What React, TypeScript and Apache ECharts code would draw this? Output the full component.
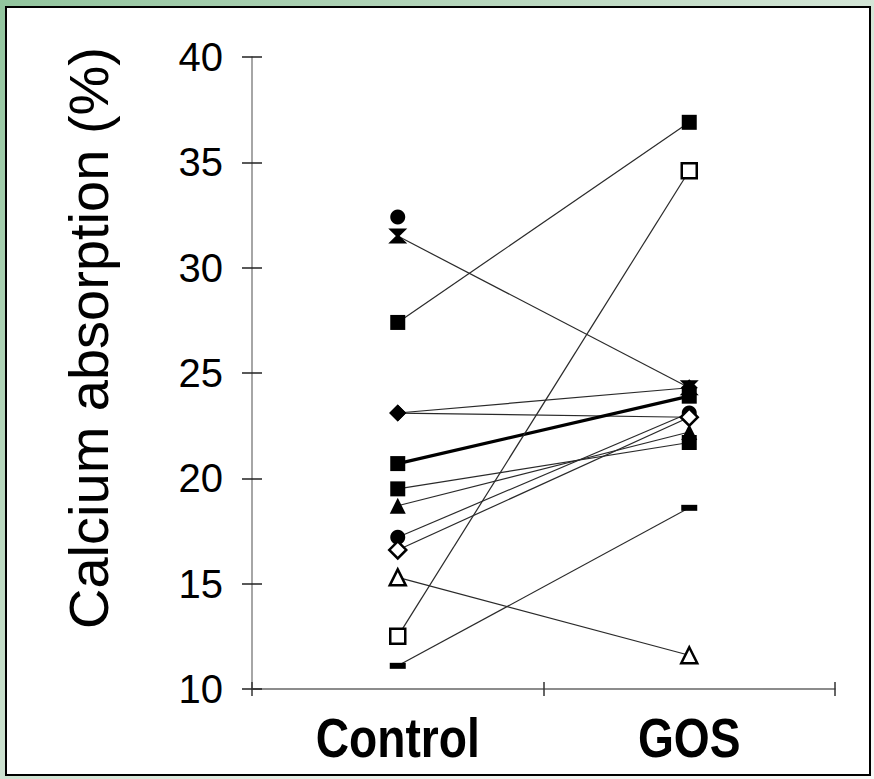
import React, { useEffect, useRef } from "react";
import * as echarts from "echarts";

const categories = ["Control", "GOS"];
const yMin = 10;
const yMax = 40;
const yStep = 5;
const yTitle = "Calcium absorption (%)";

// one entry per subject
const controlValues = [32.4, 31.5, 27.4, 23.1, 23.1, 20.7, 19.5, 18.7, 17.2, 16.6, 15.3, 12.5, 11.1];
const gosValues: (number | string)[] = ["-", 24.3, 36.9, 24.3, 22.9, 23.9, 21.7, 22.2, 23.1, 22.9, 11.6, 34.6, 18.6];
const markerShapes = ["circle", "hourglass", "rect", "diamond", "diamond", "rect", "rect", "triangle", "circle", "diamond", "triangle", "rect", "dash"];
const markerOpen = [false, false, false, false, false, false, false, false, false, true, true, true, false];
const lineWeights = [1.2, 1.2, 1.2, 1.2, 1.2, 3.2, 1.2, 1.2, 1.2, 1.2, 1.2, 1.2, 1.2];

const FONT = '"Liberation Sans", Arial, sans-serif';

function symbolOf(shape: string) {
  if (shape === "hourglass") return { symbol: "path://M0,0L20,0L12,8L20,16L0,16L8,8Z", size: [19, 15] };
  if (shape === "dash") return { symbol: "rect", size: [16, 6] };
  if (shape === "triangle") return { symbol: "triangle", size: 16 };
  if (shape === "diamond") return { symbol: "diamond", size: 17 };
  if (shape === "circle") return { symbol: "circle", size: 15 };
  return { symbol: "rect", size: 15 };
}

export default function App() {
  const ref = useRef<HTMLDivElement>(null);
  useEffect(() => {
    if (!ref.current) return;
    const chart = echarts.init(ref.current, null, { renderer: "svg" });
    const series = controlValues.map((c, i) => {
      const s = symbolOf(markerShapes[i]);
      const open = markerOpen[i];
      return {
        type: "line",
        name: "Subject " + (i + 1),
        data: [c, gosValues[i]],
        xAxisIndex: 0,
        yAxisIndex: 0,
        symbol: s.symbol,
        symbolSize: s.size,
        showAllSymbol: true,
        lineStyle: { color: lineWeights[i] > 2 ? "#000" : "#2a2a2a", width: lineWeights[i] },
        itemStyle: open
          ? { color: "#fff", borderColor: "#000", borderWidth: 2.5 }
          : { color: "#000", borderColor: "#000", borderWidth: 0 },
        emphasis: { disabled: true },
        z: 3,
      };
    });
    chart.setOption({
      animation: false,
      grid: { left: 252, right: 39, top: 57, bottom: 90, containLabel: false },
      xAxis: [
        {
          type: "category",
          data: categories,
          boundaryGap: true,
          position: "bottom",
          axisLine: { show: true, lineStyle: { color: "#666", width: 1.5 } },
          axisTick: { show: true, length: 7, lineStyle: { color: "#333", width: 1.5 } },
          axisLabel: { show: false },
          splitLine: { show: false },
        },
        {
          type: "category",
          data: categories,
          boundaryGap: true,
          position: "bottom",
          axisLine: { show: false },
          axisTick: { show: true, inside: true, length: 7, lineStyle: { color: "#333", width: 1.5 } },
          axisLabel: { show: false },
          splitLine: { show: false },
        },
      ],
      yAxis: [
        {
          type: "value",
          min: yMin,
          max: yMax,
          interval: yStep,
          position: "left",
          axisLine: { show: true, lineStyle: { color: "#888", width: 1.5 } },
          axisTick: { show: true, length: 10, lineStyle: { color: "#222", width: 1.5 } },
          axisLabel: { fontSize: 40, color: "#000", fontFamily: FONT, margin: 29 },
          splitLine: { show: false },
        },
        {
          type: "value",
          min: yMin,
          max: yMax,
          interval: yStep,
          position: "left",
          axisLine: { show: false },
          axisTick: { show: true, inside: true, length: 10, lineStyle: { color: "#222", width: 1.5 } },
          axisLabel: { show: false },
          splitLine: { show: false },
        },
      ],
      series,
    });

    // category labels (condensed bold) placed at the axis' own category positions
    const catTexts = categories.map((name, i) => {
      const px = chart.convertToPixel({ xAxisIndex: 0 }, i) as number;
      return {
        type: "text",
        x: px,
        y: 738,
        scaleX: 0.84,
        style: {
          text: name,
          font: `bold 55px ${FONT}`,
          fill: "#000",
          align: "center",
          verticalAlign: "middle",
          textAlign: "center",
          textVerticalAlign: "middle",
        },
      };
    });

    chart.setOption({
      graphic: [
        {
          type: "text",
          x: 88,
          y: 338,
          rotation: Math.PI / 2,
          style: {
            text: yTitle,
            font: `56px ${FONT}`,
            fill: "#000",
            align: "center",
            verticalAlign: "middle",
            textAlign: "center",
            textVerticalAlign: "middle",
          },
        },
        ...catTexts,
      ],
    });
    return () => chart.dispose();
  }, []);

  return (
    <div
      style={{
        position: "fixed",
        left: 0,
        top: 0,
        width: 874,
        height: 779,
        background: "linear-gradient(135deg, #92c59e 0%, #c4ddc8 40%, #eef4ef 75%, #f7f9f7 100%)",
      }}
    >
      <div
        style={{
          position: "absolute",
          left: 5,
          top: 6,
          width: 862,
          height: 766,
          border: "2px solid #000",
          background: "#fff",
        }}
      />
      <div ref={ref} style={{ position: "absolute", left: 0, top: 0, width: 874, height: 779 }} />
    </div>
  );
}
